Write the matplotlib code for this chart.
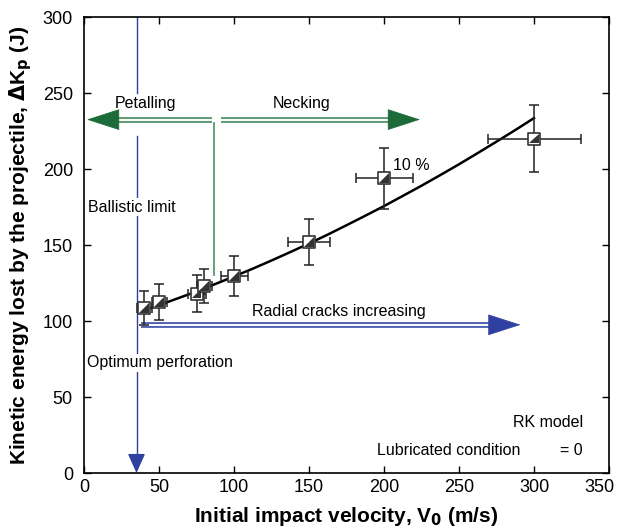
import matplotlib
matplotlib.use("Agg")
import matplotlib.pyplot as plt
import matplotlib.transforms as mtransforms
import numpy as np
from matplotlib.path import Path

plt.rcParams['font.family'] = ['Liberation Sans', 'DejaVu Sans']

# Data
velocity = [40, 50, 75, 80, 100, 150, 200, 300]
energy = [108.5, 112.5, 118, 123, 129.5, 152, 194, 220]
vel_err = [5, 5, 6, 5, 9, 14, 19, 31]
energy_err = [11, 12, 12, 11, 13, 15, 20, 22]

curve_v = [38, 50, 60, 70, 80, 90, 100, 112, 125, 137, 150, 162, 175, 187, 200, 212, 225, 237, 250, 262, 275, 287, 300]
curve_k = [106.3, 110.4, 114.0, 117.6, 121.4, 125.3, 129.3, 134.2, 139.8, 145.1, 151.0, 156.6, 163.0,
           169.0, 175.6, 182.0, 189.0, 195.7, 203.1, 210.2, 218.0, 225.3, 233.5]

xticks = [0, 50, 100, 150, 200, 250, 300, 350]
yticks = [0, 50, 100, 150, 200, 250, 300]

fig = plt.figure(figsize=(6.17, 5.32), dpi=100)
ax = fig.add_axes([84/617, 1-473/532, (609-84)/617, (473-17)/532])
ax.set_xlim(0, 350)
ax.set_ylim(0, 300)
ax.set_xticks(xticks)
ax.set_yticks(yticks)
ax.tick_params(direction='in', top=True, right=True, labelsize=13, length=5, width=1, pad=4)
ax.tick_params(axis='y', pad=8)
for s in ax.spines.values():
    s.set_linewidth(1.2)
# shift last x tick label left so it fits like the reference
lbl = ax.get_xticklabels()[-1]
lbl.set_transform(lbl.get_transform() + mtransforms.ScaledTranslation(-10/100, 0, fig.dpi_scale_trans))

blue = '#3040a0'
green = '#1e6b3a'
green_l = '#5a9a70'

# Ballistic limit vertical line (with gap where green arrows cross)
ax.plot([35, 35], [300, 250], color=blue, lw=1, zorder=2)
ax.plot([35, 35], [222, 8], color=blue, lw=1, zorder=2)
ax.annotate('', xy=(35, 0), xytext=(35, 10),
            arrowprops=dict(arrowstyle='-|>,head_length=1.0,head_width=0.45', mutation_scale=12,
                            color=blue, lw=1, shrinkA=0, shrinkB=0), zorder=3)

def double_arrow(x0, x1, y, col, headcol, head_len):
    tip_dir = np.sign(x1 - x0)
    shaft_end = x1 - tip_dir * head_len
    ax.plot([x0, shaft_end], [y, y], color=col, lw=4.2, solid_capstyle='butt', zorder=4)
    ax.plot([x0, shaft_end], [y, y], color='white', lw=1.4, solid_capstyle='butt', zorder=5)
    ax.annotate('', xy=(x1, y), xytext=(shaft_end + tip_dir * 0.5, y),
                arrowprops=dict(arrowstyle='-|>,head_length=1.7,head_width=0.55', mutation_scale=13,
                                color=headcol, lw=0.5, shrinkA=0, shrinkB=0), zorder=6)

# Green petalling / necking arrows
double_arrow(85, 2, 232.5, green_l, green, 15)
double_arrow(91, 224, 232.5, green_l, green, 15)
ax.plot([86.5, 86.5], [230, 130], color=green_l, lw=1.3, zorder=4)

# Blue radial cracks arrow
double_arrow(38, 291, 97.5, '#5060b0', blue, 15)

# Fit curve
ax.plot(curve_v, curve_k, color='black', lw=1.8, zorder=7)

# Error bars
ax.errorbar(velocity, energy, xerr=vel_err, yerr=energy_err, fmt='none',
            ecolor='#222222', elinewidth=1.1, capsize=3.5, capthick=1.1, zorder=8)

# Half-filled square markers
ax.scatter(velocity, energy, marker='s', s=75, facecolor='white', edgecolor='#333333',
           linewidths=1.2, zorder=9)
tri = Path([(-1, -1), (1, -1), (1, 1), (-1, -1)], [Path.MOVETO, Path.LINETO, Path.LINETO, Path.CLOSEPOLY])
ax.scatter(velocity, energy, marker=tri, s=48, facecolor='#333333', edgecolor='none', zorder=10)

# Texts
fs = 11.5
ax.text(41, 243, 'Petalling', fontsize=fs, ha='center', va='center', zorder=6)
ax.text(145, 243, 'Necking', fontsize=fs, ha='center', va='center', zorder=6)
ax.text(3, 175, 'Ballistic limit', fontsize=fs, ha='left', va='center', zorder=6,
        bbox=dict(facecolor='white', edgecolor='none', pad=1))
ax.text(2, 72.5, 'Optimum perforation', fontsize=fs, ha='left', va='center', zorder=6,
        bbox=dict(facecolor='white', edgecolor='none', pad=1))
ax.text(170, 106, 'Radial cracks increasing', fontsize=fs, ha='center', va='center', zorder=6)
ax.text(206, 202, '10 %', fontsize=fs, ha='left', va='center', zorder=11)
ax.text(332.5, 33, 'RK model', fontsize=fs, ha='right', va='center')
ax.text(291, 15, 'Lubricated condition', fontsize=fs, ha='right', va='center')
ax.text(332.5, 15, '= 0', fontsize=fs, ha='right', va='center')

ax.set_xlabel('Initial impact velocity, V$_\\mathbf{0}$ (m/s)', fontsize=15, fontweight='bold', labelpad=7)
ax.set_ylabel('Kinetic energy lost by the projectile, $\\mathbf{\\Delta}$K$_\\mathbf{p}$ (J)', fontsize=15,
              fontweight='bold', labelpad=6)

fig.savefig('out.png', dpi=100)
